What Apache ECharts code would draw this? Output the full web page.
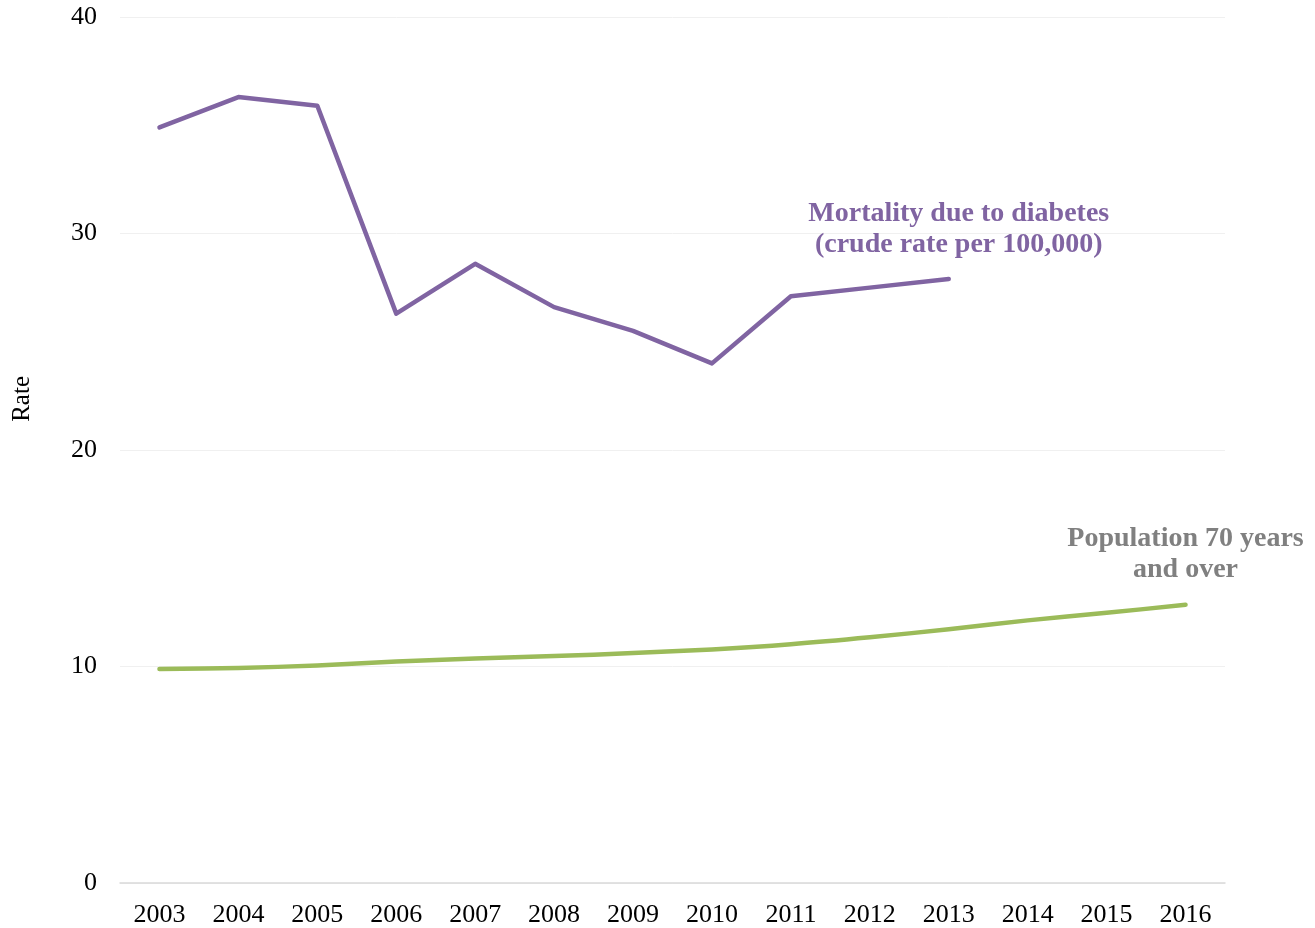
<!DOCTYPE html>
<html>
<head>
<meta charset="utf-8">
<script src="https://cdn.jsdelivr.net/npm/echarts@6/dist/echarts.min.js"></script>
<style>
  html, body { margin: 0; padding: 0; background: #fff; }
  #chart { width: 1315px; height: 928px; }
</style>
</head>
<body>
<div id="chart"></div>
<script>
// Years on the horizontal axis
const years = ['2003', '2004', '2005', '2006', '2007', '2008', '2009',
               '2010', '2011', '2012', '2013', '2014', '2015', '2016'];

// Mortality due to diabetes, crude rate per 100,000 (2003–2013)
const diabetesMortality = [34.9, 36.3, 35.9, 26.3, 28.6, 26.6, 25.5, 24.0, 27.1, 27.5, 27.9];

// Share of population aged 70 years and over
const population70 = [9.88, 9.93, 10.05, 10.23, 10.37, 10.48, 10.62, 10.79, 11.03, 11.35, 11.72, 12.13, 12.48, 12.85];

const diabetesLabel = 'Mortality due to diabetes\n(crude rate per 100,000)';
const populationLabel = 'Population 70 years\nand over';

const serif = '"Liberation Serif", "DejaVu Serif", serif';

function endLabel(text, color, offset) {
  return {
    show: true,
    formatter: text,
    color: color,
    fontFamily: serif,
    fontWeight: 'bold',
    fontSize: 28,
    lineHeight: 31,
    align: 'center',
    verticalAlign: 'bottom',
    offset: offset
  };
}

const chart = echarts.init(document.getElementById('chart'));
chart.setOption({
  animation: false,
  grid: { left: 120, right: 90, top: 17, bottom: 45, containLabel: false },
  graphic: [{
    type: 'text',
    left: 10,
    top: 376,
    rotation: Math.PI / 2,
    style: { text: 'Rate', fill: '#000', font: '25px ' + serif }
  }],
  xAxis: {
    type: 'category',
    data: years,
    boundaryGap: true,
    axisLine: { show: true, lineStyle: { color: '#d9d9d9', width: 1.5 } },
    axisTick: { show: false },
    axisLabel: { color: '#000', fontFamily: serif, fontSize: 26, margin: 19 }
  },
  yAxis: {
    type: 'value',
    min: 0,
    max: 40,
    interval: 10,
    axisLine: { show: false },
    axisTick: { show: false },
    axisLabel: { color: '#000', fontFamily: serif, fontSize: 26, margin: 23 },
    splitLine: { lineStyle: { color: '#f0f0f0', width: 1 } }
  },
  series: [
    {
      name: 'Mortality due to diabetes',
      type: 'line',
      data: diabetesMortality,
      symbol: 'none',
      lineStyle: { color: '#8064a2', width: 4.5, cap: 'round', join: 'round' },
      itemStyle: { color: '#8064a2' },
      endLabel: endLabel(diabetesLabel, '#8064a2', [2, -19]),
      z: 3
    },
    {
      name: 'Population 70 years and over',
      type: 'line',
      data: population70,
      symbol: 'none',
      smooth: 0.3,
      lineStyle: { color: '#9bbb59', width: 4.5, cap: 'round', join: 'round' },
      itemStyle: { color: '#9bbb59' },
      endLabel: endLabel(populationLabel, '#808080', [-8, -20]),
      z: 2
    }
  ]
});
</script>
</body>
</html>
